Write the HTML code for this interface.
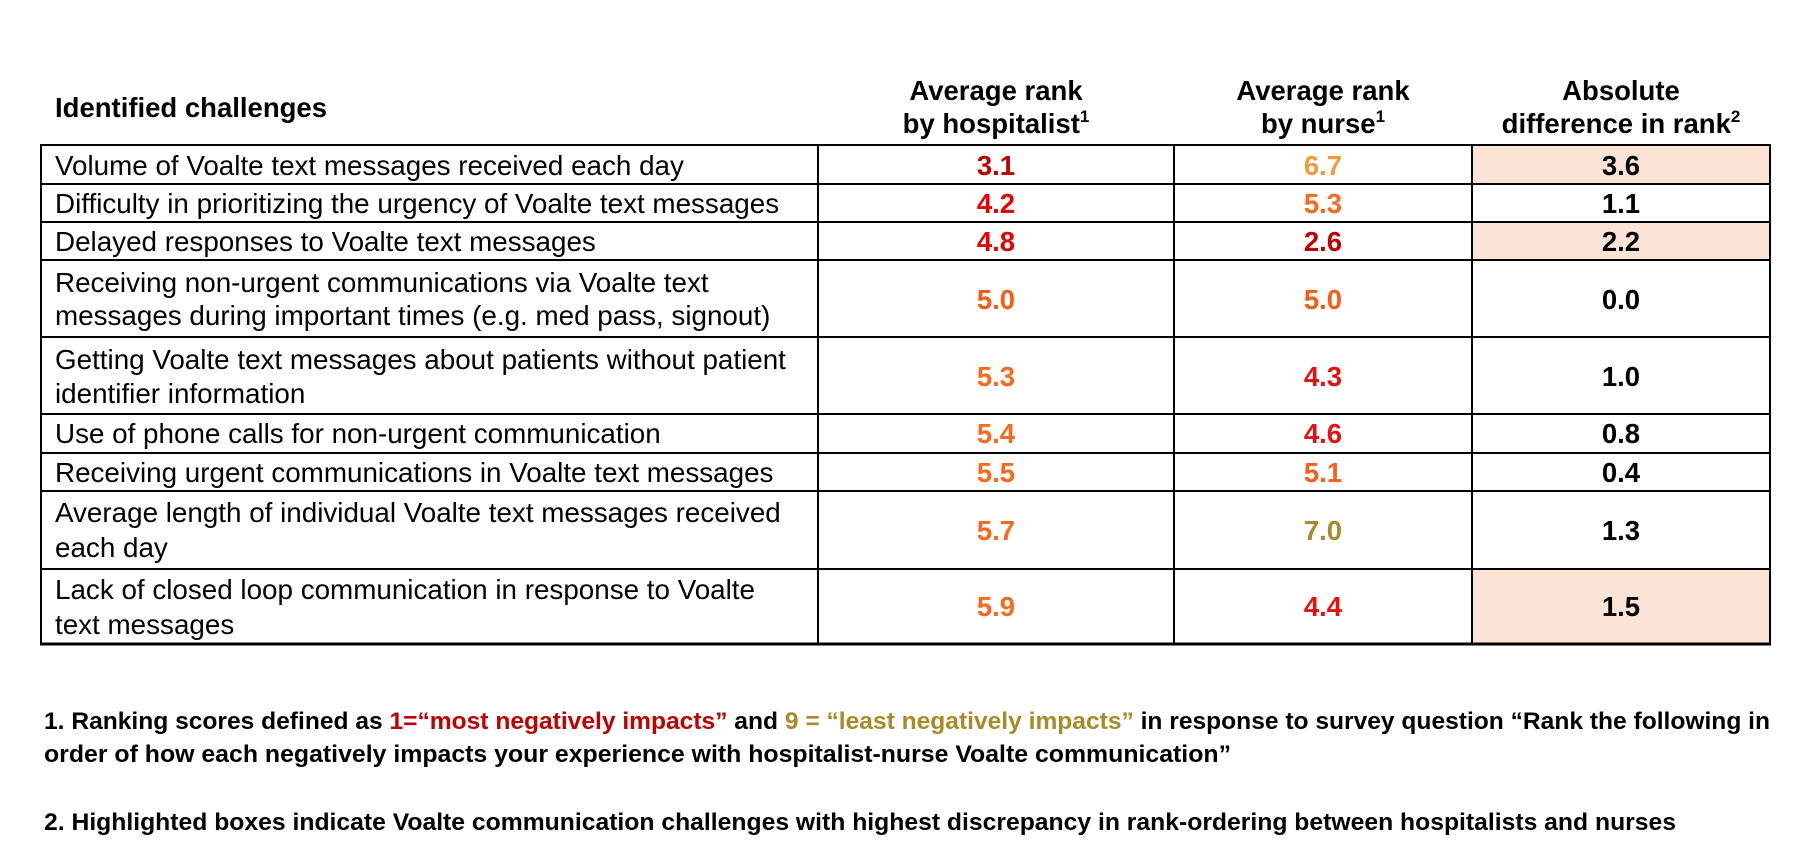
<!DOCTYPE html>
<html><head><meta charset="utf-8"><style>
html,body{margin:0;padding:0;background:#fff;}
svg{display:block;}
text{font-family:"Liberation Sans",Arial,sans-serif;}
.h{font-weight:bold;font-size:27.5px;fill:#000;}
.c{font-size:27.8px;fill:#000;}
.n{font-weight:bold;font-size:27.5px;text-anchor:middle;}
.f{font-weight:bold;font-size:24px;fill:#000;}
</style></head><body>
<svg width="1812" height="863" viewBox="0 0 1812 863" xmlns="http://www.w3.org/2000/svg">
<rect width="1812" height="863" fill="#fff"/>
<rect x="1472" y="146" width="298" height="38" fill="#FBE3D6"/>
<rect x="1472" y="222" width="298" height="38" fill="#FBE3D6"/>
<rect x="1472" y="569" width="298" height="75" fill="#FBE3D6"/>
<g stroke="#000" stroke-width="2">
<line x1="40" y1="145" x2="1771" y2="145"/>
<line x1="40" y1="184" x2="1771" y2="184"/>
<line x1="40" y1="222" x2="1771" y2="222"/>
<line x1="40" y1="260" x2="1771" y2="260"/>
<line x1="40" y1="337" x2="1771" y2="337"/>
<line x1="40" y1="414" x2="1771" y2="414"/>
<line x1="40" y1="453" x2="1771" y2="453"/>
<line x1="40" y1="491" x2="1771" y2="491"/>
<line x1="40" y1="569" x2="1771" y2="569"/>
<line x1="40" y1="644" x2="1771" y2="644" stroke-width="3"/>
<line x1="41" y1="145" x2="41" y2="644"/>
<line x1="818" y1="145" x2="818" y2="644"/>
<line x1="1174" y1="145" x2="1174" y2="644"/>
<line x1="1472" y1="145" x2="1472" y2="644"/>
<line x1="1770" y1="145" x2="1770" y2="644"/>
</g>
<text class="h" x="55" y="117">Identified challenges</text>
<text class="h" x="996" y="100" text-anchor="middle">Average rank</text>
<text class="h" x="996" y="133" text-anchor="middle">by hospitalist<tspan font-size="17" dy="-11">1</tspan></text>
<text class="h" x="1323" y="100" text-anchor="middle">Average rank</text>
<text class="h" x="1323" y="133" text-anchor="middle">by nurse<tspan font-size="17" dy="-11">1</tspan></text>
<text class="h" x="1621" y="100" text-anchor="middle">Absolute</text>
<text class="h" x="1621" y="133" text-anchor="middle">difference in rank<tspan font-size="17" dy="-11">2</tspan></text>
<text class="c" x="55" y="175">Volume of Voalte text messages received each day</text>
<text class="c" x="55" y="213">Difficulty in prioritizing the urgency of Voalte text messages</text>
<text class="c" x="55" y="251">Delayed responses to Voalte text messages</text>
<text class="c" x="55" y="292">Receiving non-urgent communications via Voalte text</text>
<text class="c" x="55" y="325">messages during important times (e.g. med pass, signout)</text>
<text class="c" x="55" y="369">Getting Voalte text messages about patients without patient</text>
<text class="c" x="55" y="403">identifier information</text>
<text class="c" x="55" y="443">Use of phone calls for non-urgent communication</text>
<text class="c" x="55" y="482">Receiving urgent communications in Voalte text messages</text>
<text class="c" x="55" y="522">Average length of individual Voalte text messages received</text>
<text class="c" x="55" y="557">each day</text>
<text class="c" x="55" y="599">Lack of closed loop communication in response to Voalte</text>
<text class="c" x="55" y="634">text messages</text>
<text class="n" x="996" y="175" fill="#C00000">3.1</text>
<text class="n" x="1323" y="175" fill="#F59A3C">6.7</text>
<text class="n" x="1621" y="175" fill="#000">3.6</text>
<text class="n" x="996" y="213" fill="#E80000">4.2</text>
<text class="n" x="1323" y="213" fill="#F86A1E">5.3</text>
<text class="n" x="1621" y="213" fill="#000">1.1</text>
<text class="n" x="996" y="251" fill="#E80000">4.8</text>
<text class="n" x="1323" y="251" fill="#C00000">2.6</text>
<text class="n" x="1621" y="251" fill="#000">2.2</text>
<text class="n" x="996" y="309" fill="#FA5A14">5.0</text>
<text class="n" x="1323" y="309" fill="#FA5A14">5.0</text>
<text class="n" x="1621" y="309" fill="#000">0.0</text>
<text class="n" x="996" y="386" fill="#F86A1E">5.3</text>
<text class="n" x="1323" y="386" fill="#E81010">4.3</text>
<text class="n" x="1621" y="386" fill="#000">1.0</text>
<text class="n" x="996" y="443" fill="#F86A1E">5.4</text>
<text class="n" x="1323" y="443" fill="#E81010">4.6</text>
<text class="n" x="1621" y="443" fill="#000">0.8</text>
<text class="n" x="996" y="482" fill="#F86A1E">5.5</text>
<text class="n" x="1323" y="482" fill="#F8601E">5.1</text>
<text class="n" x="1621" y="482" fill="#000">0.4</text>
<text class="n" x="996" y="540" fill="#F86A1E">5.7</text>
<text class="n" x="1323" y="540" fill="#A88B28">7.0</text>
<text class="n" x="1621" y="540" fill="#000">1.3</text>
<text class="n" x="996" y="616" fill="#F86A1E">5.9</text>
<text class="n" x="1323" y="616" fill="#E81010">4.4</text>
<text class="n" x="1621" y="616" fill="#000">1.5</text>
<text class="f" x="44" y="729" textLength="1726" lengthAdjust="spacingAndGlyphs">1. Ranking scores defined as <tspan fill="#C00000">1=“most negatively impacts”</tspan> and <tspan fill="#A88B28">9 = “least negatively impacts”</tspan> in response to survey question “Rank the following in</text>
<text class="f" x="44" y="762" textLength="1187" lengthAdjust="spacingAndGlyphs">order of how each negatively impacts your experience with hospitalist-nurse Voalte communication”</text>
<text class="f" x="44" y="830" textLength="1632" lengthAdjust="spacingAndGlyphs">2. Highlighted boxes indicate Voalte communication challenges with highest discrepancy in rank-ordering between hospitalists and nurses</text>
</svg>
</body></html>
